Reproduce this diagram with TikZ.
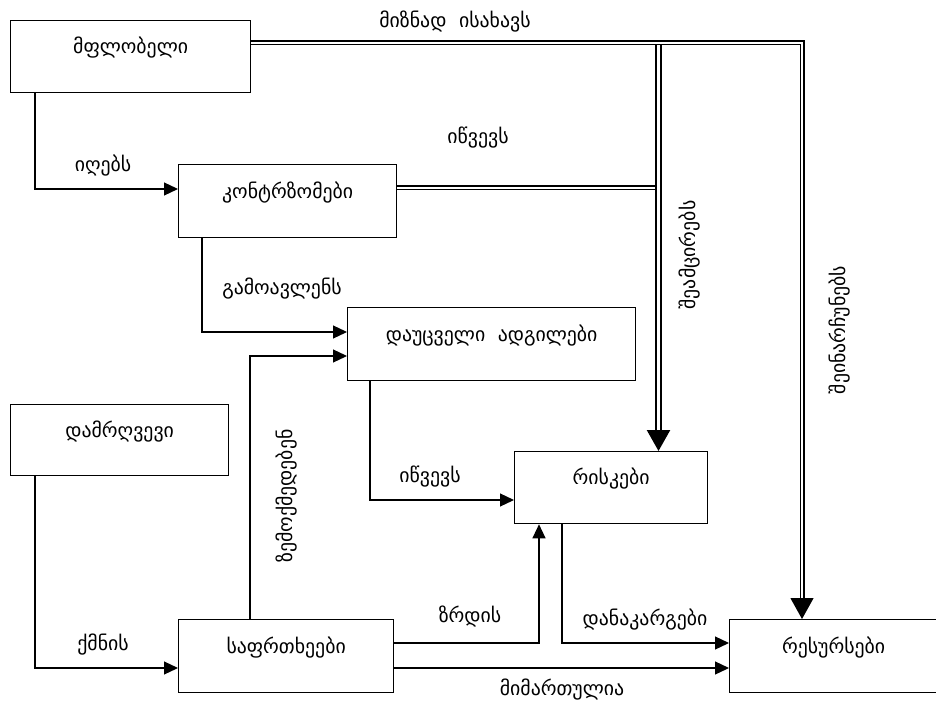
\documentclass[tikz,border=0pt]{standalone}
\usepackage{fontspec}
\setmainfont{DejaVu Sans}
\usetikzlibrary{arrows.meta}
\begin{document}
\begin{tikzpicture}[x=1pt,y=-1pt,
  box/.style={draw, line width=1.3pt, inner sep=0pt, anchor=north west,
    text height=20pt, text depth=26pt, font=\fontsize{19.8}{22}\selectfont},
  lab/.style={inner sep=0pt, font=\fontsize{19.8}{22}\selectfont},
  conn/.style={line width=1.2pt, -{Triangle[length=14pt,width=13pt]}},
  dbl/.style={double, double distance=2.6pt, line width=1.2pt},
  dblthick/.style={double, double distance=2.2pt, line width=2.4pt},
  bigtip/.style={-{Triangle[length=21pt,width=23pt]}}
]
\useasboundingbox (0,0) rectangle (936,703);

% boxes
\node[box, minimum width=240pt, minimum height=72pt] (own) at (10,20) {მფლობელი};
\node[box, minimum width=218pt, minimum height=73pt] (cm) at (178,164) {კონტრზომები};
\node[box, minimum width=288pt, minimum height=73pt] (vul) at (347,307) {დაუცველი~~ადგილები};
\node[box, minimum width=218pt, minimum height=71pt] (agent) at (10,404) {დამრღვევი};
\node[box, minimum width=193pt, minimum height=72pt] (risk) at (514,451) {რისკები};
\node[box, minimum width=215pt, minimum height=73pt] (thr) at (178,619) {საფრთხეები};
\node[box, minimum width=208pt, minimum height=73pt] (res) at (729,619) {რესურსები};

% junction coordinates
\coordinate (j1) at (658.5,45);
\coordinate (j2) at (655,188);

% double connectors
\draw[dblthick, bigtip] (j1) -- ([xshift=144.5pt]risk.north west);
\draw[dbl, bigtip] ([yshift=-23pt]own.north east) -| ([xshift=73pt]res.north west);
\draw[dbl] ([yshift=-24pt]cm.north east) -- (j2);

% single connectors
\draw[conn] ([xshift=25pt]own.south west) |- ([yshift=-25pt]cm.north west);
\draw[conn] ([xshift=24pt]cm.south west) |- ([yshift=-25pt]vul.north west);
\draw[conn] ([xshift=72pt]thr.north west) |- ([yshift=-49pt]vul.north west);
\draw[conn] ([xshift=25pt]agent.south west) |- ([yshift=-49pt]thr.north west);
\draw[conn] ([xshift=23pt]vul.south west) |- ([yshift=-49pt]risk.north west);
\draw[conn] ([yshift=-24pt]thr.north east) -| ([xshift=25pt]risk.south west);
\draw[conn] ([xshift=48pt]risk.south west) |- ([yshift=-24pt]res.north west);
\draw[conn] ([yshift=-49pt]thr.north east) -- ([yshift=-49pt]res.north west);

% labels
\node[lab] (l1) at (103,166) {იღებს};
\node[lab] (l2) at (282,289) {გამოავლენს};
\node[lab, rotate=90] (l3) at (287,496) {ზემოქმედებენ};
\node[lab] (l4) at (103,645) {ქმნის};
\node[lab] (l5) at (430,477) {იწვევს};
\node[lab] (l6) at (470,616) {ზრდის};
\node[lab] (l7) at (645,620) {დანაკარგები};
\node[lab] (l8) at (562,690) {მიმართულია};
\node[lab] (l9) at (455,22) {მიზნად~~ისახავს};
\node[lab] (l10) at (478,138) {იწვევს};
\node[lab, rotate=90] (l11) at (690,255) {შეამცირებს};
\node[lab, rotate=90] (l12) at (840,330) {შეინარჩუნებს};
\end{tikzpicture}
\end{document}
